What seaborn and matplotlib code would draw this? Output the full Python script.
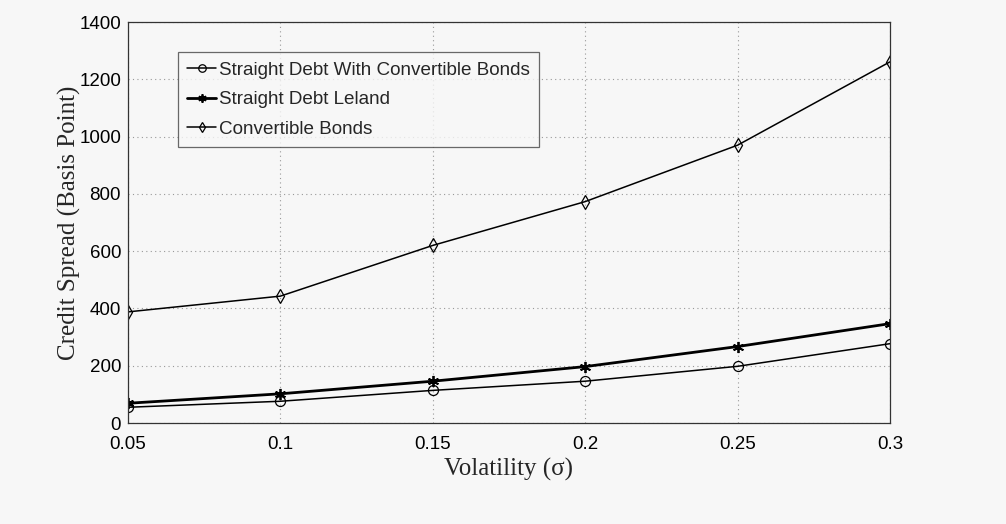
import matplotlib
matplotlib.use("Agg")
import matplotlib.pyplot as plt
import seaborn as sns
import pandas as pd

volatility = [0.05, 0.10, 0.15, 0.20, 0.25, 0.30]
straight_with_cb = [55, 76, 114, 146, 198, 277]
straight_leland = [69, 102, 146, 197, 267, 347]
convertible = [388, 443, 620, 773, 970, 1261]
x_ticks = [0.05, 0.1, 0.15, 0.2, 0.25, 0.3]
x_tick_labels = ["0.05", "0.1", "0.15", "0.2", "0.25", "0.3"]
y_ticks = [0, 200, 400, 600, 800, 1000, 1200, 1400]

sns.set_style("white")
plt.rcParams["font.family"] = ["Liberation Sans", "DejaVu Sans"]

df = pd.DataFrame({
    "vol": volatility * 3,
    "spread": straight_with_cb + straight_leland + convertible,
    "series": (["Straight Debt With Convertible Bonds"] * 6
               + ["Straight Debt Leland"] * 6
               + ["Convertible Bonds"] * 6),
})

bg = "#f7f7f7"
fig = plt.figure(figsize=(10.06, 5.24), dpi=100)
fig.patch.set_facecolor(bg)
ax = fig.add_axes([0.1272, 0.1927, 0.7575, 0.7653])
ax.set_facecolor(bg)

asterisk = (6, 2, 0)
styles = {
    "Straight Debt With Convertible Bonds": dict(marker="o", lw=1.1, ms=7.2, mew=0.9),
    "Straight Debt Leland": dict(marker=asterisk, lw=2.0, ms=8, mew=1.3),
    "Convertible Bonds": dict(marker="d", lw=1.1, ms=7.2, mew=0.9),
}
for name, st in styles.items():
    sub = df[df["series"] == name]
    sns.lineplot(data=sub, x="vol", y="spread", ax=ax, color="black",
                 marker=st["marker"], linewidth=st["lw"], markersize=st["ms"],
                 markerfacecolor="none", markeredgecolor="black",
                 markeredgewidth=st["mew"], label=name)

ax.set_xlim(0.05, 0.3)
ax.set_ylim(0, 1400)
ax.set_xticks(x_ticks)
ax.set_xticklabels(x_tick_labels)
ax.set_yticks(y_ticks)
ax.grid(True, linestyle=(0, (1, 3)), color="#999999", linewidth=0.8)
ax.tick_params(axis="both", direction="in", length=5, labelsize=13.5, colors="black")
ax.tick_params(axis="x", pad=9)
ax.tick_params(axis="y", pad=5)
for s in ax.spines.values():
    s.set_color("#333333")
    s.set_linewidth(0.9)

serif = ["Liberation Serif", "DejaVu Serif"]
ax.set_xlabel("Volatility (σ)", fontsize=18, family=serif)
ax.set_ylabel("Credit Spread (Basis Point)", fontsize=18, family=serif)
ax.xaxis.set_label_coords(0.5, -0.088)
ax.yaxis.set_label_coords(-0.061, 0.5)

leg = ax.legend(loc="upper left", bbox_to_anchor=(0.0656, 0.925), fontsize=13.6,
                frameon=True, fancybox=False, edgecolor="#444444", handlelength=1.5,
                handletextpad=0.15, borderpad=0.5, labelspacing=0.65, borderaxespad=0,
                markerscale=0.75)
leg.get_frame().set_facecolor(bg)
leg.get_frame().set_linewidth(0.9)

fig.savefig("out.png", dpi=100, facecolor=fig.get_facecolor())
